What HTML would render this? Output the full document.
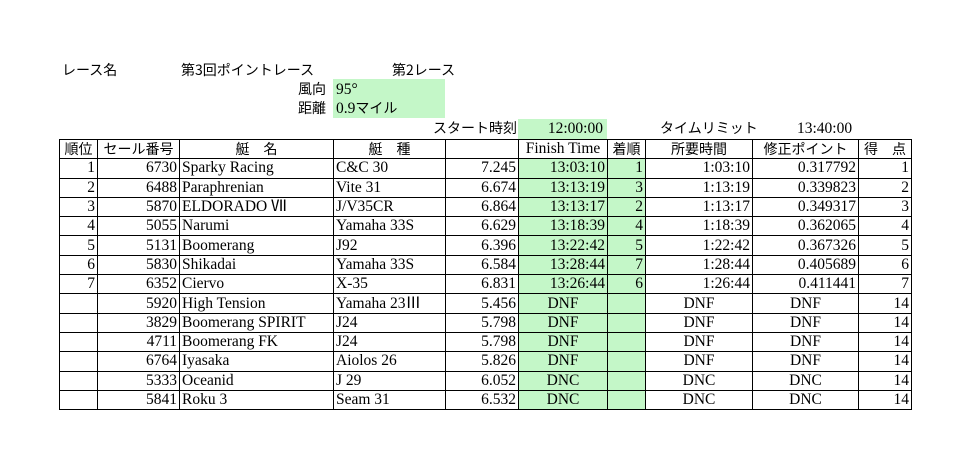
<!DOCTYPE html>
<html><head><meta charset="utf-8"><style>
body{margin:0;width:980px;height:469px;background:#fff;position:relative;overflow:hidden;font-family:"Liberation Serif","Noto Sans CJK JP",serif;font-size:15.5px;color:#000}
.a{position:absolute;white-space:nowrap;line-height:19px}
.j{font-family:"Noto Sans CJK JP",sans-serif;font-size:14px}
.g{background:#c4f7c8}
table{position:absolute;left:59px;top:139px;border-collapse:collapse;table-layout:fixed}
td{border:1px solid #000;height:18.3px;padding:0 2px;line-height:18px;white-space:nowrap;overflow:hidden;font-size:15.5px}
td.r{text-align:right}
td.c{text-align:center}
tr.h td{font-family:"Noto Sans CJK JP",sans-serif;font-size:14px;text-align:center}
tr.h td.f{font-family:"Liberation Serif",serif;font-size:15.5px}
</style></head><body>
<div class="a j" style="left:62px;top:61px">レース名</div>
<div class="a j" style="left:181px;top:61px">第3回ポイントレース</div>
<div class="a j" style="left:392px;top:61px">第2レース</div>
<div class="a g" style="left:333px;top:79px;width:112px;height:39px"></div>
<div class="a j" style="left:298px;top:80px">風向</div>
<div class="a" style="left:336px;top:80px">95°</div>
<div class="a j" style="left:298px;top:99px">距離</div>
<div class="a" style="left:336px;top:99px">0.9<span class="j">マイル</span></div>
<div class="a j" style="left:433px;top:119px">スタート時刻</div>
<div class="a g" style="left:518px;top:119px;width:89px;height:20px;text-align:right"><span style="padding-right:4px">12:00:00</span></div>
<div class="a j" style="left:660px;top:119px">タイムリミット</div>
<div class="a" style="left:797px;top:119px">13:40:00</div>
<table>
<colgroup><col style="width:38px"><col style="width:82px"><col style="width:154px"><col style="width:112px"><col style="width:73px"><col style="width:89px"><col style="width:38px"><col style="width:107px"><col style="width:106px"><col style="width:53px"></colgroup>
<tr class="h"><td>順位</td><td>セール番号</td><td>艇　名</td><td>艇　種</td><td></td><td class="f">Finish Time</td><td>着順</td><td>所要時間</td><td>修正ポイント</td><td>得　点</td></tr>
<tr><td class="r">1</td><td class="r">6730</td><td>Sparky Racing</td><td>C&amp;C 30</td><td class="r">7.245</td><td class="r g">13:03:10</td><td class="r g">1</td><td class="r">1:03:10</td><td class="r">0.317792</td><td class="r">1</td></tr>
<tr><td class="r">2</td><td class="r">6488</td><td>Paraphrenian</td><td>Vite 31</td><td class="r">6.674</td><td class="r g">13:13:19</td><td class="r g">3</td><td class="r">1:13:19</td><td class="r">0.339823</td><td class="r">2</td></tr>
<tr><td class="r">3</td><td class="r">5870</td><td>ELDORADO Ⅶ</td><td>J/V35CR</td><td class="r">6.864</td><td class="r g">13:13:17</td><td class="r g">2</td><td class="r">1:13:17</td><td class="r">0.349317</td><td class="r">3</td></tr>
<tr><td class="r">4</td><td class="r">5055</td><td>Narumi</td><td>Yamaha 33S</td><td class="r">6.629</td><td class="r g">13:18:39</td><td class="r g">4</td><td class="r">1:18:39</td><td class="r">0.362065</td><td class="r">4</td></tr>
<tr><td class="r">5</td><td class="r">5131</td><td>Boomerang</td><td>J92</td><td class="r">6.396</td><td class="r g">13:22:42</td><td class="r g">5</td><td class="r">1:22:42</td><td class="r">0.367326</td><td class="r">5</td></tr>
<tr><td class="r">6</td><td class="r">5830</td><td>Shikadai</td><td>Yamaha 33S</td><td class="r">6.584</td><td class="r g">13:28:44</td><td class="r g">7</td><td class="r">1:28:44</td><td class="r">0.405689</td><td class="r">6</td></tr>
<tr><td class="r">7</td><td class="r">6352</td><td>Ciervo</td><td>X-35</td><td class="r">6.831</td><td class="r g">13:26:44</td><td class="r g">6</td><td class="r">1:26:44</td><td class="r">0.411441</td><td class="r">7</td></tr>
<tr><td></td><td class="r">5920</td><td>High Tension</td><td>Yamaha 23Ⅲ</td><td class="r">5.456</td><td class="c g">DNF</td><td class="g"></td><td class="c">DNF</td><td class="c">DNF</td><td class="r">14</td></tr>
<tr><td></td><td class="r">3829</td><td>Boomerang SPIRIT</td><td>J24</td><td class="r">5.798</td><td class="c g">DNF</td><td class="g"></td><td class="c">DNF</td><td class="c">DNF</td><td class="r">14</td></tr>
<tr><td></td><td class="r">4711</td><td>Boomerang FK</td><td>J24</td><td class="r">5.798</td><td class="c g">DNF</td><td class="g"></td><td class="c">DNF</td><td class="c">DNF</td><td class="r">14</td></tr>
<tr><td></td><td class="r">6764</td><td>Iyasaka</td><td>Aiolos 26</td><td class="r">5.826</td><td class="c g">DNF</td><td class="g"></td><td class="c">DNF</td><td class="c">DNF</td><td class="r">14</td></tr>
<tr><td></td><td class="r">5333</td><td>Oceanid</td><td>J 29</td><td class="r">6.052</td><td class="c g">DNC</td><td class="g"></td><td class="c">DNC</td><td class="c">DNC</td><td class="r">14</td></tr>
<tr><td></td><td class="r">5841</td><td>Roku 3</td><td>Seam 31</td><td class="r">6.532</td><td class="c g">DNC</td><td class="g"></td><td class="c">DNC</td><td class="c">DNC</td><td class="r">14</td></tr>
</table>
</body></html>
